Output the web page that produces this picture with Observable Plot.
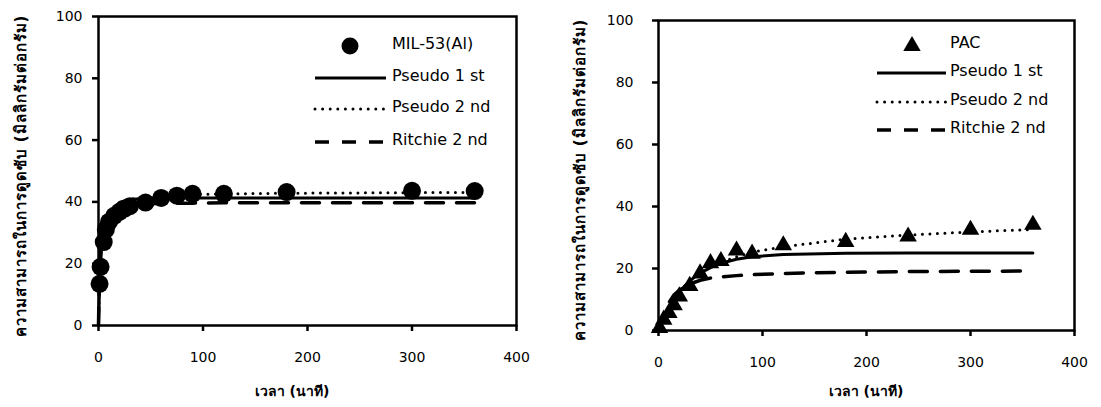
<!DOCTYPE html>
<html>
<head>
<meta charset="utf-8">
<script src="https://cdn.jsdelivr.net/npm/d3@7"></script>
<script src="https://cdn.jsdelivr.net/npm/@observablehq/plot@0.6"></script>
<style>
  html, body { margin: 0; padding: 0; background: #fff; }
  #wrap { position: relative; width: 1101px; height: 407px; background: #fff; overflow: hidden;
          font-family: "DejaVu Sans", "Noto Sans", sans-serif; color: #000; }
  .panel { position: absolute; top: 0; }
  .ytitle { position: absolute; white-space: nowrap; font-weight: bold; font-size: 15px; letter-spacing: 1px;
            transform: translate(-50%, -50%) rotate(-90deg); }
  .xtitle { position: absolute; white-space: nowrap; font-weight: bold; font-size: 14px;
            transform: translate(-50%, -50%); }
</style>
</head>
<body>
<div id="wrap">
  <div class="panel" id="left" style="left:0px"></div>
  <div class="panel" id="right" style="left:550px"></div>
  <div class="ytitle" style="left:21px; top:176px">ความสามารถในการดูดซับ (มิลลิกรัมต่อกรัม)</div>
  <div class="ytitle" style="left:580px; top:180px">ความสามารถในการดูดซับ (มิลลิกรัมต่อกรัม)</div>
  <div class="xtitle" style="left:292px; top:391px">เวลา (นาที)</div>
  <div class="xtitle" style="left:866px; top:391px">เวลา (นาที)</div>
</div>
<script>
// ---------- data ----------
const xTicks = [0, 100, 200, 300, 400];
const yTicks = [0, 20, 40, 60, 80, 100];
const legendLabels = ["Pseudo 1 st", "Pseudo 2 nd", "Ritchie 2 nd"];

// MIL-53(Al) experimental
const milTime = [1, 2, 5, 7, 10, 15, 20, 25, 30, 45, 60, 75, 90, 120, 180, 300, 360];
const milQ    = [13.5, 19, 27, 31, 33.5, 35.5, 36.8, 37.8, 38.6, 39.8, 41.3, 42, 42.6, 42.6, 43.2, 43.6, 43.5];
// MIL-53(Al) model curves
const milFitTime = [0, 1, 2, 3, 5, 10, 20, 30, 45, 60, 90, 120, 180, 240, 300, 360];
const milPseudo1 = [0, 12, 20, 25, 31, 36.5, 39.8, 40.8, 41.2, 41.3, 41.3, 41.3, 41.3, 41.3, 41.3, 41.3];
const milPseudo2 = [0, 14, 22, 27, 32, 36.5, 39.5, 40.8, 41.7, 42, 42.4, 42.6, 42.8, 42.9, 43, 43.1];
const milRitchie = [0, 20, 27, 31, 34.5, 37, 38.6, 39.1, 39.4, 39.5, 39.6, 39.7, 39.7, 39.7, 39.7, 39.7];

// PAC experimental
const pacTime = [1, 5, 10, 15, 20, 30, 40, 50, 60, 75, 90, 120, 180, 240, 300, 360];
const pacQ    = [0.8, 3.5, 5.7, 8.2, 11, 14.4, 18.4, 21.7, 22.4, 25.8, 24.8, 27.5, 28.6, 30.3, 32.5, 34.1];
// PAC model curves
const pacFitTime = [0, 5, 10, 15, 20, 30, 40, 50, 60, 75, 90, 120, 180, 240, 300, 360];
const pacPseudo1 = [0, 4, 7.3, 10, 12.5, 16, 18.5, 20.3, 21.7, 23, 23.8, 24.5, 24.9, 25, 25, 25];
const pacPseudo2 = [0, 4.6, 7.6, 10.3, 12.5, 16, 18.5, 20.5, 22, 23.8, 25.3, 27, 29.5, 30.8, 31.8, 32.6];
const pacRitchie = [0, 5.5, 9, 11.5, 13, 15, 16.2, 16.9, 17.3, 17.7, 18, 18.4, 18.8, 19, 19.1, 19.2];

// ---------- helpers ----------
const pts = (xs, ys) => xs.map((t, i) => ({t, q: ys[i]}));

const solidStyle  = {stroke: "black", strokeWidth: 3};
const dottedStyle = {stroke: "black", strokeWidth: 3, strokeDasharray: "0,7.5", strokeLinecap: "round"};
const dashedStyle = {stroke: "black", strokeWidth: 3.5, strokeDasharray: "18,13"};

function makePanel(cfg) {
  const fitTime = cfg.fitTime;
  const chart = Plot.plot({
    width: cfg.width, height: 407,
    marginLeft: cfg.ml, marginRight: cfg.mr, marginTop: cfg.mt, marginBottom: cfg.mb,
    style: {fontFamily: "DejaVu Sans, sans-serif", fontSize: "14px", color: "black", background: "white", overflow: "visible"},
    x: {domain: [0, 400], ticks: xTicks, tickSize: 6, tickPadding: 21, label: null, tickFormat: d => String(d)},
    y: {domain: [0, 100], ticks: yTicks, tickSize: 6, tickPadding: cfg.yPad, label: null, tickFormat: d => String(d)},
    marks: [
      Plot.line(pts(fitTime, cfg.p1), {x: "t", y: "q", ...solidStyle}),
      Plot.line(pts(fitTime, cfg.p2), {x: "t", y: "q", ...dottedStyle}),
      Plot.line(pts(fitTime, cfg.r2), {x: "t", y: "q", ...dashedStyle}),
      Plot.dot(pts(cfg.time, cfg.q), {x: "t", y: "q", r: cfg.r, symbol: cfg.symbol, fill: "black", stroke: "none"}),
      Plot.frame({stroke: "black", strokeWidth: 2.5})
    ]
  });
  const svg = d3.select(chart.tagName.toLowerCase() === "svg" ? chart : chart.querySelector("svg"));
  svg.selectAll('g[aria-label$="tick"]').attr("stroke-width", 2.5).attr("stroke", "black");

  // legend (inside plot area, like the original)
  const L = cfg.legend;
  const g = svg.append("g").attr("font-family", "DejaVu Sans, sans-serif").attr("font-size", 16)
    .attr("fill", "black").attr("text-anchor", "start");
  if (cfg.symbol === "circle") {
    g.append("circle").attr("cx", L.mx).attr("cy", L.my).attr("r", 8.5).attr("fill", "black");
  } else {
    g.append("path").attr("transform", `translate(${L.mx},${L.my + 1})`)
      .attr("d", d3.symbol(d3.symbolTriangle, Math.PI * 42)()).attr("fill", "black");
  }
  g.append("text").attr("x", L.tx).attr("y", L.my - 2).attr("dominant-baseline", "middle")
    .attr("text-anchor", "start").text(cfg.name);
  const styles = [
    {w: 3, dash: null, cap: "butt"},
    {w: 3, dash: "0,7.6", cap: "round"},
    {w: 3.5, dash: "14,13", cap: "butt"}
  ];
  legendLabels.forEach((lab, i) => {
    const y = L.ly[i];
    const ln = g.append("line").attr("x1", L.x1).attr("x2", L.x2).attr("y1", y).attr("y2", y)
      .attr("stroke", "black").attr("stroke-width", styles[i].w).attr("stroke-linecap", styles[i].cap);
    if (styles[i].dash) ln.attr("stroke-dasharray", styles[i].dash);
    g.append("text").attr("x", L.tx).attr("y", y - 2).attr("dominant-baseline", "middle")
      .attr("text-anchor", "start").text(lab);
  });
  return chart;
}

document.getElementById("left").appendChild(makePanel({
  width: 550, ml: 98, mr: 34, mt: 16, mb: 82, yPad: 10,
  time: milTime, q: milQ, fitTime: milFitTime, p1: milPseudo1, p2: milPseudo2, r2: milRitchie,
  symbol: "circle", r: 9, name: "MIL-53(Al)",
  legend: {mx: 350, my: 46, tx: 392, x1: 315, x2: 386, ly: [78, 109, 142]}
}));

document.getElementById("right").appendChild(makePanel({
  width: 551, ml: 108, mr: 27, mt: 20, mb: 77, yPad: 19,
  time: pacTime, q: pacQ, fitTime: pacFitTime, p1: pacPseudo1, p2: pacPseudo2, r2: pacRitchie,
  symbol: "triangle", r: 6.5, name: "PAC",
  legend: {mx: 362, my: 45, tx: 400, x1: 327, x2: 396, ly: [73, 102, 130]}
}));
</script>
</body>
</html>
